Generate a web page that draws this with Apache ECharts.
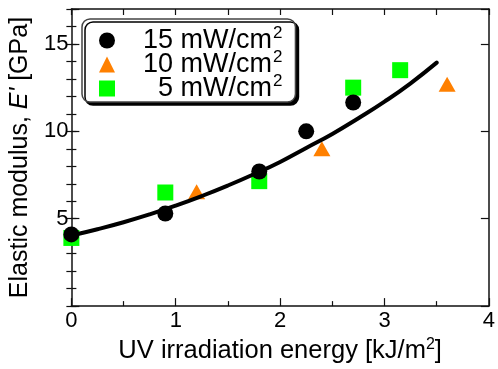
<!DOCTYPE html>
<html><head><meta charset="utf-8">
<script src="https://cdn.jsdelivr.net/npm/echarts@6/dist/echarts.min.js"></script>
<style>html,body{margin:0;padding:0;background:#fff}#c{width:498px;height:369px}</style>
</head><body><div id="c"></div>
<script>
const FONT = "'Liberation Sans', Arial, Helvetica, sans-serif";

// Legend / series names (intensity in mW/cm2)
const intensities = [15, 10, 5];
const seriesNames = ['15 mW/cm²', '10 mW/cm²', '5 mW/cm²'];

// Tick labels
const xTickLabels = [0, 1, 2, 3, 4];
const yTickLabels = [5, 10, 15];

// 15 mW/cm2 (black circles)
const energy15 = [0.0, 0.9, 1.8, 2.25, 2.7];
const modulus15 = [4.1, 5.3, 7.7, 10.0, 11.65];

// 10 mW/cm2 (orange triangles)
const energy10 = [1.2, 2.4, 3.6];
const modulus10 = [6.55, 9.0, 12.7];

// 5 mW/cm2 (green squares)
const energy5 = [0.0, 0.9, 1.8, 2.7, 3.15];
const modulus5 = [3.9, 6.5, 7.15, 12.5, 13.5];

// Fit curve
const fitEnergy = [0, 0.25, 0.5, 0.75, 1.0, 1.25, 1.5, 1.75, 2.0, 2.25, 2.5, 2.75, 3.0, 3.25, 3.5];
const fitModulus = [4.04, 4.4, 4.8, 5.25, 5.75, 6.3, 6.9, 7.55, 8.25, 9.05, 9.85, 10.75, 11.7, 12.75, 13.93];

const pairs = (xs, ys) => xs.map((x, i) => [x, ys[i]]);

const AXIS_COLOR = '#111';
const TXT = '#000';
const baseX = {
  type: 'value', min: 0, max: 4, interval: 1,
  splitLine: { show: false },
  axisLine: { show: true, onZero: false, lineStyle: { color: AXIS_COLOR, width: 1.5 } },
};
const baseY = {
  type: 'value', min: 0, max: 17,
  splitLine: { show: false },
};

const chart = echarts.init(document.getElementById('c'), null, { renderer: 'canvas' });
chart.setOption({
  animation: false,
  backgroundColor: '#fff',
  textStyle: { fontFamily: FONT },
  grid: { left: 70, right: 5, top: 9, bottom: 57, containLabel: false },
  legend: {
    data: seriesNames,
    orient: 'vertical', left: 82, top: 19,
    padding: [5, 13, 0, 17],
    itemGap: -6, itemWidth: 16, itemHeight: 16,
    backgroundColor: '#fff', borderColor: '#444', borderWidth: 1.5, borderRadius: 8,
    shadowColor: '#000', shadowBlur: 0, shadowOffsetX: 3, shadowOffsetY: 3,
    selectedMode: false,
    formatter: function (name) {
      const n = intensities[seriesNames.indexOf(name)];
      const tag = String(n).length > 1 ? 'n' : 'm';
      return '{' + tag + '|' + n + '}{a| mW/cm}{s|2}';
    },
    textStyle: {
      fontFamily: FONT, color: TXT,
      rich: {
        n: { fontSize: 27, lineHeight: 33, padding: [0, 0, 0, 23], fontFamily: FONT, color: TXT },
        m: { fontSize: 27, lineHeight: 33, padding: [0, 0, 0, 38], fontFamily: FONT, color: TXT },
        a: { fontSize: 27, lineHeight: 33, fontFamily: FONT, color: TXT },
        s: { fontSize: 17, lineHeight: 33, verticalAlign: 'top', fontFamily: FONT, color: TXT, padding: [1, 0, 0, 1] }
      }
    }
  },
  xAxis: [
    Object.assign({}, baseX, {
      position: 'bottom',
      axisTick: { show: true, inside: true, length: 8, lineStyle: { color: AXIS_COLOR, width: 1.2 } },
      minorTick: { show: true, splitNumber: 2, length: 5, lineStyle: { color: AXIS_COLOR, width: 1.2 } },
      axisLabel: {
        show: true, margin: 4, fontSize: 22, color: TXT, fontFamily: FONT,
        formatter: v => (xTickLabels.indexOf(v) >= 0 ? String(v) : '')
      },
      name: '{a|UV irradiation energy [kJ/m}{s|2}{a|]}',
      nameLocation: 'middle', nameGap: 30,
      nameTextStyle: {
        fontFamily: FONT, color: TXT,
        rich: {
          a: { fontSize: 25.5, lineHeight: 28, fontFamily: FONT, color: TXT },
          s: { fontSize: 16, lineHeight: 28, verticalAlign: 'top', fontFamily: FONT, color: TXT }
        }
      }
    }),
    Object.assign({}, baseX, {
      position: 'top',
      axisTick: { show: true, inside: true, length: 6, lineStyle: { color: AXIS_COLOR, width: 1.2 } },
      minorTick: { show: true, splitNumber: 2, length: 6, lineStyle: { color: AXIS_COLOR, width: 1.2 } },
      axisLabel: { show: false }
    })
  ],
  yAxis: [
    Object.assign({}, baseY, {
      position: 'left', interval: 5,
      axisLine: { show: true, onZero: false, lineStyle: { color: AXIS_COLOR, width: 1.5 } },
      axisTick: { show: true, inside: true, length: 8, lineStyle: { color: AXIS_COLOR, width: 1.2 } },
      axisLabel: {
        show: true, margin: 3, fontSize: 22, color: TXT, fontFamily: FONT,
        formatter: v => (yTickLabels.indexOf(v) >= 0 ? String(v) : '')
      },
      name: '{a|Elastic modulus, }{i|E\'}{a| [GPa]}',
      nameLocation: 'middle', nameGap: 30,
      nameTextStyle: {
        fontFamily: FONT, color: TXT,
        rich: {
          a: { fontSize: 25, fontFamily: FONT, color: TXT },
          i: { fontSize: 25, fontStyle: 'italic', fontFamily: FONT, color: TXT }
        }
      }
    }),
    Object.assign({}, baseY, {
      position: 'left', interval: 1,
      axisLine: { show: false },
      axisTick: { show: true, inside: true, length: 5, lineStyle: { color: AXIS_COLOR, width: 1.2 } },
      axisLabel: { show: false }
    }),
    Object.assign({}, baseY, {
      position: 'right', interval: 5,
      axisLine: { show: true, onZero: false, lineStyle: { color: AXIS_COLOR, width: 1.5 } },
      axisTick: { show: true, inside: true, length: 8, lineStyle: { color: AXIS_COLOR, width: 1.2 } },
      axisLabel: { show: false }
    }),
    Object.assign({}, baseY, {
      position: 'right', interval: 1,
      axisLine: { show: false },
      axisTick: { show: true, inside: true, length: 5, lineStyle: { color: AXIS_COLOR, width: 1.2 } },
      axisLabel: { show: false }
    })
  ],
  series: [
    {
      name: seriesNames[2], type: 'scatter', xAxisIndex: 0, yAxisIndex: 0,
      symbol: 'rect', symbolSize: 16, itemStyle: { color: '#00FF00', opacity: 1 },
      data: pairs(energy5, modulus5)
    },
    {
      name: seriesNames[1], type: 'scatter', xAxisIndex: 0, yAxisIndex: 0,
      symbol: 'triangle', symbolSize: [17, 15], itemStyle: { color: '#FF8000', opacity: 1 },
      data: pairs(energy10, modulus10)
    },
    {
      name: seriesNames[0], type: 'scatter', xAxisIndex: 0, yAxisIndex: 0,
      symbol: 'circle', symbolSize: 16, itemStyle: { color: '#000', opacity: 1 },
      data: pairs(energy15, modulus15)
    },
    {
      name: 'fit', type: 'line', xAxisIndex: 0, yAxisIndex: 0,
      smooth: true, showSymbol: false, symbol: 'none',
      lineStyle: { color: '#000', width: 4, cap: 'round' },
      data: pairs(fitEnergy, fitModulus)
    }
  ]
});
</script>
</body></html>
